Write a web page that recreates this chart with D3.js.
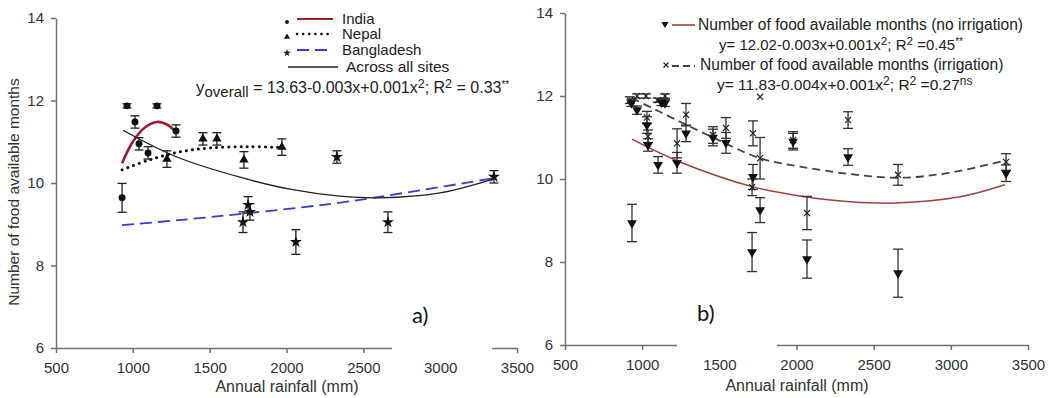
<!DOCTYPE html>
<html>
<head>
<meta charset="utf-8">
<script src="https://d3js.org/d3.v7.min.js"></script>
<style>
body { margin: 0; background: #fff; }
svg { font-family: "Liberation Sans", Arial, sans-serif; }
.axis path, .axis line { stroke: #707070; stroke-width: 1.5; }
.axis text { font-size: 15px; fill: #333; }
</style>
</head>
<body>
<script>
// tick labels (both panels)
var tickX = [500, 1000, 1500, 2000, 2500, 3000, 3500];
var tickY = [6, 8, 10, 12, 14];

// ---- panel a) points: rainfall, months, error ----
var indiaRain   = [930, 962, 1014, 1040, 1099, 1157, 1281];
var indiaMonths = [9.64, 11.87, 11.48, 10.95, 10.73, 11.87, 11.26];
var indiaErr    = [0.35, 0.05, 0.15, 0.15, 0.15, 0.05, 0.15];

var nepalRain   = [1222, 1456, 1547, 1723, 1970];
var nepalMonths = [10.58, 11.07, 11.07, 10.56, 10.87];
var nepalErr    = [0.2, 0.15, 0.15, 0.2, 0.2];

var bangRain    = [1717, 1750, 1762, 2061, 2328, 2660, 3350];
var bangMonths  = [9.05, 9.47, 9.30, 8.57, 10.63, 9.05, 10.15];
var bangErr     = [0.25, 0.2, 0.2, 0.3, 0.15, 0.25, 0.15];

// fitted curves of panel a)
var indiaFitRain   = [930, 1000, 1080, 1157, 1230, 1281];
var indiaFitMonths = [10.48, 11.0, 11.35, 11.48, 11.40, 11.22];
var nepalFitRain   = [930, 1100, 1300, 1500, 1750, 1970];
var nepalFitMonths = [10.32, 10.55, 10.75, 10.85, 10.88, 10.86];
var bangFitRain    = [930, 1300, 1750, 2300, 2800, 3350];
var bangFitMonths  = [8.98, 9.10, 9.27, 9.50, 9.78, 10.12];
var allFitRain     = [936, 1287, 1697, 2022, 2348, 2608, 3000, 3350];
var allFitMonths   = [11.28, 10.63, 10.14, 9.85, 9.68, 9.64, 9.76, 10.10];

// ---- panel b) points ----
var noIrrRain   = [934, 930, 967, 1031, 1038, 1103, 1125, 1148, 1226, 1284, 1459, 1543, 1712, 1718, 1764, 1978, 2068, 2334, 2658, 3358];
var noIrrMonths = [8.94, 11.83, 11.66, 11.30, 10.82, 10.34, 11.85, 11.83, 10.39, 11.10, 11.0, 10.87, 8.24, 10.05, 9.25, 10.90, 8.07, 10.53, 7.73, 10.14];
var noIrrErr    = [0.45, 0.08, 0.1, 0.2, 0.15, 0.2, 0.08, 0.08, 0.25, 0.2, 0.2, 0.25, 0.47, 0.3, 0.3, 0.2, 0.46, 0.2, 0.58, 0.2];

var irrRain   = [920, 967, 1025, 1031, 1038, 1100, 1148, 1226, 1284, 1459, 1543, 1718, 1712, 1764, 1764, 1978, 2068, 2334, 2658, 3358];
var irrMonths = [11.9, 12.0, 12.0, 11.48, 11.03, 11.9, 12.0, 10.86, 11.55, 11.06, 11.23, 11.1, 9.8, 10.5, 11.98, 10.94, 9.18, 11.42, 10.1, 10.41];
var irrErr    = [0.08, 0.05, 0.05, 0.15, 0.15, 0.05, 0.05, 0.35, 0.27, 0.2, 0.25, 0.3, 0.2, 0.5, 0, 0.2, 0.4, 0.2, 0.25, 0.2];

// fitted curves of panel b)
var noIrrFitRain   = [934, 1245, 1718, 2023, 2347, 2650, 3060, 3350];
var noIrrFitMonths = [10.96, 10.41, 9.81, 9.59, 9.45, 9.42, 9.57, 9.86];
var irrFitRain     = [934, 1245, 1459, 1764, 2023, 2347, 2658, 2976, 3358];
var irrFitMonths   = [11.95, 11.38, 11.0, 10.5, 10.3, 10.12, 10.03, 10.14, 10.45];


var svg = d3.select("body").append("svg")
    .attr("width", 1049)
    .attr("height", 398);

// scales
var xA = d3.scaleLinear().domain([500, 3500]).range([56, 517]);
var yA = d3.scaleLinear().domain([6, 14]).range([348, 18]);
var xB = d3.scaleLinear().domain([500, 3500]).range([565, 1028]);
var yB = d3.scaleLinear().domain([6, 14]).range([345, 13]);

function drawAxes(x, y) {
    var base = y.range()[0], left = x.range()[0];
    svg.append("g")
        .attr("class", "axis")
        .attr("transform", "translate(0," + base + ")")
        .call(d3.axisBottom(x).tickValues(tickX).tickFormat(d3.format("d"))
            .tickSize(5).tickSizeOuter(0).tickPadding(9))
        .attr("font-family", "Liberation Sans, Arial, sans-serif");
    svg.append("g")
        .attr("class", "axis")
        .attr("transform", "translate(" + left + ",0)")
        .call(d3.axisLeft(y).tickValues(tickY).tickSize(5).tickSizeOuter(0).tickPadding(7))
        .attr("font-family", "Liberation Sans, Arial, sans-serif");
}

function makeData(rain, months, err) {
    return rain.map(function (r, i) { return {r: r, v: months[i], e: err[i]}; });
}

function errorBars(x, y, data, cap, color) {
    var g = svg.append("g").attr("stroke", color).attr("stroke-width", 1.3);
    data.forEach(function (d) {
        if (d.e <= 0) return;
        var xx = x(d.r), y1 = y(d.v - d.e), y2 = y(d.v + d.e);
        g.append("line").attr("x1", xx).attr("x2", xx).attr("y1", y1).attr("y2", y2);
        g.append("line").attr("x1", xx - cap).attr("x2", xx + cap).attr("y1", y1).attr("y2", y1);
        g.append("line").attr("x1", xx - cap).attr("x2", xx + cap).attr("y1", y2).attr("y2", y2);
    });
}

function markers(x, y, data, type, size, rot, stroked) {
    svg.append("g")
        .selectAll("path")
        .data(data)
        .enter()
        .append("path")
        .attr("d", d3.symbol().type(type).size(size))
        .attr("transform", function (d) { return "translate(" + x(d.r) + "," + y(d.v) + ") rotate(" + rot + ")"; })
        .style("fill", stroked ? "none" : "#111")
        .style("stroke", stroked ? "#222" : "none")
        .style("stroke-width", 1.2);
}

function fitLine(x, y, rain, months, color, width, dash) {
    var line = d3.line()
        .x(function (d) { return x(d[0]); })
        .y(function (d) { return y(d[1]); })
        .curve(d3.curveCatmullRom.alpha(0.5));
    var p = svg.append("path")
        .datum(rain.map(function (r, i) { return [r, months[i]]; }))
        .attr("d", line)
        .style("fill", "none")
        .style("stroke", color)
        .style("stroke-width", width);
    if (dash) p.style("stroke-dasharray", dash).style("stroke-linecap", dash == "0.1,6" ? "round" : "butt");
}

// text with super / subscripts
function richText(xPos, yPos, parts, size) {
    var t = svg.append("text")
        .attr("x", xPos).attr("y", yPos)
        .style("font-size", size + "px")
        .style("fill", "#222");
    var shift = 0;
    parts.forEach(function (p) {
        var kind = p[1] || "n";
        var target = kind == "sup" ? -5 : kind == "sub" ? 4 : 0;
        t.append("tspan")
            .attr("dy", target - shift)
            .style("font-size", (p[2] || (kind == "n" ? size : size * 0.78)) + "px")
            .text(p[0]);
        shift = target;
    });
}

function legendLine(x1, x2, yy, color, width, dash) {
    var l = svg.append("line")
        .attr("x1", x1).attr("x2", x2).attr("y1", yy).attr("y2", yy)
        .style("stroke", color).style("stroke-width", width);
    if (dash) l.style("stroke-dasharray", dash).style("stroke-linecap", dash == "0.1,6" ? "round" : "butt");
}

// ================= panel a) =================
drawAxes(xA, yA);

fitLine(xA, yA, bangFitRain, bangFitMonths, "#3b3bd2", 1.8, "12,6");
fitLine(xA, yA, allFitRain, allFitMonths, "#222", 1.3);
fitLine(xA, yA, nepalFitRain, nepalFitMonths, "#111", 3, "0.1,6");
fitLine(xA, yA, indiaFitRain, indiaFitMonths, "#9e1f2c", 2.6);

var indiaData = makeData(indiaRain, indiaMonths, indiaErr);
var nepalData = makeData(nepalRain, nepalMonths, nepalErr);
var bangData = makeData(bangRain, bangMonths, bangErr);
errorBars(xA, yA, indiaData, 4.5, "#222");
errorBars(xA, yA, nepalData, 4.5, "#222");
errorBars(xA, yA, bangData, 4.5, "#222");
markers(xA, yA, indiaData, d3.symbolCircle, 38, 0);
markers(xA, yA, nepalData, d3.symbolTriangle, 38, 0);
markers(xA, yA, bangData, d3.symbolStar, 45, 0);

// legend a)
var legA = [["India", 19], ["Nepal", 34], ["Bangladesh", 50]];
svg.append("path").attr("d", d3.symbol().type(d3.symbolCircle).size(12)).attr("transform", "translate(287,22)").style("fill", "#111");
svg.append("path").attr("d", d3.symbol().type(d3.symbolTriangle).size(16)).attr("transform", "translate(287,37)").style("fill", "#111");
svg.append("path").attr("d", d3.symbol().type(d3.symbolStar).size(18)).attr("transform", "translate(287,53)").style("fill", "#111");
legendLine(297, 333, 19, "#9e1f2c", 2.2);
legendLine(297, 333, 34, "#111", 2.6, "0.1,6");
legendLine(297, 333, 50, "#3b3bd2", 2, "12,6");
legendLine(288, 338, 67, "#222", 1.3);
legA.forEach(function (d) {
    svg.append("text").attr("x", 342).attr("y", d[1] + 5).style("font-size", "15px").style("fill", "#222").text(d[0]);
});
svg.append("text").attr("x", 346).attr("y", 72).style("font-size", "15.5px").style("fill", "#222").text("Across all sites");

richText(196, 93, [["y", "n", 17], ["overall", "sub", 15], [" = 13.63-0.003x+0.001x"], ["2", "sup"], ["; R"], ["2", "sup"], [" = 0.33"], ["**", "sup", 10]], 16);

// ================= panel b) =================
drawAxes(xB, yB);

fitLine(xB, yB, noIrrFitRain, noIrrFitMonths, "#a3403f", 1.5);
fitLine(xB, yB, irrFitRain, irrFitMonths, "#444", 1.8, "8,5");

var noIrrData = makeData(noIrrRain, noIrrMonths, noIrrErr);
var irrData = makeData(irrRain, irrMonths, irrErr);
errorBars(xB, yB, irrData, 5, "#333");
errorBars(xB, yB, noIrrData, 5, "#333");
markers(xB, yB, irrData, d3.symbolX, 26, 0, true);
markers(xB, yB, noIrrData, d3.symbolTriangle, 42, 180);

// legend b)
svg.append("path").attr("d", d3.symbol().type(d3.symbolTriangle).size(22)).attr("transform", "translate(665,24) rotate(180)").style("fill", "#111");
legendLine(672, 695, 25, "#a3403f", 1.6);
svg.append("path").attr("d", d3.symbol().type(d3.symbolX).size(18)).attr("transform", "translate(666,65)").style("fill", "none").style("stroke", "#222").style("stroke-width", 1.1);
legendLine(672, 695, 66, "#444", 1.8, "7,4");
svg.append("text").attr("x", 698).attr("y", 30).style("font-size", "15.6px").style("fill", "#222").text("Number of food available months (no irrigation)");
richText(719, 50, [["y= 12.02-0.003x+0.001x"], ["2", "sup"], ["; R"], ["2", "sup"], [" =0.45"], ["**", "sup", 10]], 15);
svg.append("text").attr("x", 700).attr("y", 70).style("font-size", "15.6px").style("fill", "#222").text("Number of food available months (irrigation)");
richText(717, 90, [["y= 11.83-0.004x+0.001x"], ["2", "sup"], ["; R"], ["2", "sup"], [" =0.27"], ["ns", "sup", 12]], 15.5);

// white boxes behind the a) / b) labels (they hide part of the x axis)
svg.append("rect").attr("x", 392).attr("y", 295).attr("width", 100).attr("height", 58).style("fill", "#fff");
svg.append("rect").attr("x", 677).attr("y", 292).attr("width", 100).attr("height", 58).style("fill", "#fff");
svg.append("text").attr("x", 412).attr("y", 323).style("font-family", "Lato, 'Open Sans', sans-serif").style("font-size", "22px").style("fill", "#111").text("a)");
svg.append("text").attr("x", 697).attr("y", 321).style("font-family", "Lato, 'Open Sans', sans-serif").style("font-size", "22px").style("fill", "#111").text("b)");

// axis titles
svg.append("text")
    .attr("transform", "translate(19,192) rotate(-90)")
    .attr("text-anchor", "middle")
    .style("font-size", "15.5px")
    .style("fill", "#333")
    .text("Number of food available months");
svg.append("text").attr("x", 287).attr("y", 392).attr("text-anchor", "middle").style("font-size", "16px").style("fill", "#333").text("Annual rainfall (mm)");
svg.append("text").attr("x", 797).attr("y", 391).attr("text-anchor", "middle").style("font-size", "16px").style("fill", "#333").text("Annual rainfall (mm)");
</script>
</body>
</html>
